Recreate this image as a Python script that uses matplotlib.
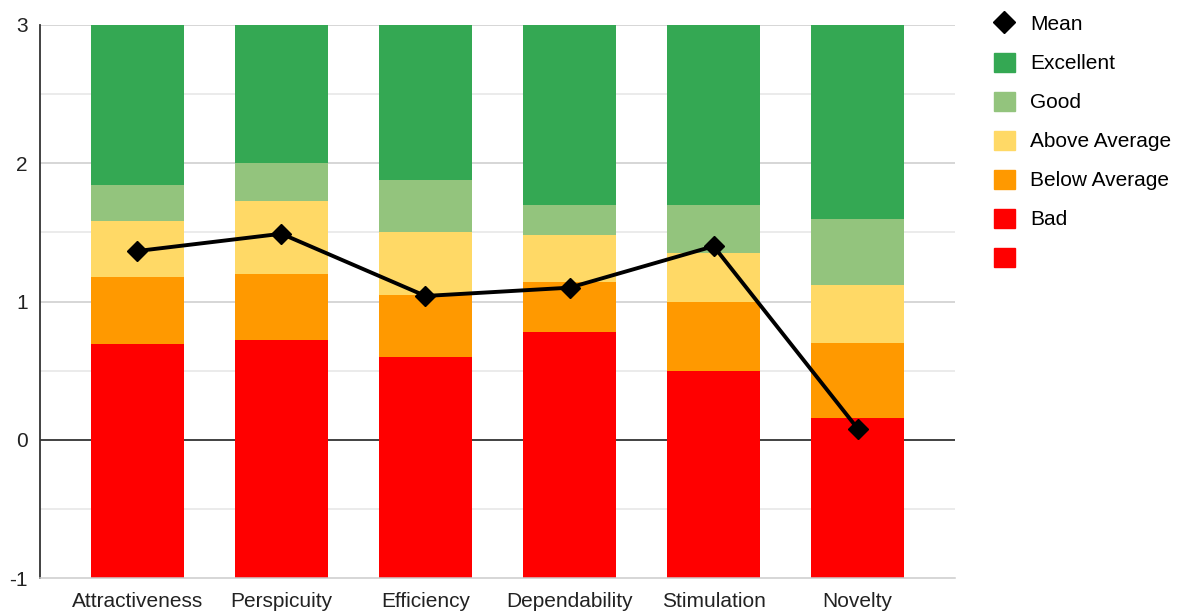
import matplotlib
matplotlib.use("Agg")
import matplotlib.pyplot as plt
import numpy as np
from matplotlib.lines import Line2D
from matplotlib.patches import Patch

plt.rcParams['font.family'] = ['Liberation Sans', 'DejaVu Sans']

categories = ["Attractiveness", "Perspicuity", "Efficiency", "Dependability", "Stimulation", "Novelty"]

# Upper bounds of each benchmark band per scale
bad_upper = [0.69, 0.72, 0.60, 0.78, 0.50, 0.16]
below_avg_upper = [1.18, 1.20, 1.05, 1.14, 1.00, 0.70]
above_avg_upper = [1.58, 1.73, 1.50, 1.48, 1.35, 1.12]
good_upper = [1.84, 2.00, 1.88, 1.70, 1.70, 1.60]
excellent_upper = [3.0, 3.0, 3.0, 3.0, 3.0, 3.0]
floor_values = [-1.0, -1.0, -1.0, -1.0, -1.0, -1.0]

mean_values = [1.365, 1.49, 1.04, 1.10, 1.40, 0.08]

yticks = [-1, 0, 1, 2, 3]

colors = {
    "Excellent": "#34A853",
    "Good": "#93C47D",
    "Above Average": "#FFD966",
    "Below Average": "#FF9900",
    "Bad": "#FF0000",
}

fig = plt.figure(figsize=(11.82, 6.12), dpi=100)
ax = fig.add_axes([40 / 1182, 34 / 612, 915 / 1182, 553 / 612])

x = np.arange(len(categories))
w = 0.645

# Unlabelled red base from 0 down to -1
ax.bar(x, floor_values, w, bottom=0, color=colors["Bad"], zorder=2)

bands = [
    ("Bad", [0.0] * 6, bad_upper),
    ("Below Average", bad_upper, below_avg_upper),
    ("Above Average", below_avg_upper, above_avg_upper),
    ("Good", above_avg_upper, good_upper),
    ("Excellent", good_upper, excellent_upper),
]
for name, lo, hi in bands:
    lo = np.array(lo)
    hi = np.array(hi)
    ax.bar(x, hi - lo, w, bottom=lo, color=colors[name], zorder=2)

ax.plot(x, mean_values, color="black", lw=2.8, marker="D", ms=10, zorder=4)

ax.set_xlim(-0.675, len(categories) - 1 + 0.675)
ax.set_ylim(-1, 3)

# Grid lines
for v in np.arange(-0.5, 3.01, 0.5):
    if v == 0:
        ax.axhline(v, color="#333333", lw=1.3, zorder=1)
    elif float(v).is_integer():
        ax.axhline(v, color="#cccccc", lw=1.1, zorder=1)
    else:
        ax.axhline(v, color="#e6e6e6", lw=1.1, zorder=1)

for s in ["top", "right"]:
    ax.spines[s].set_visible(False)
ax.spines["left"].set_color("#333333")
ax.spines["left"].set_linewidth(1.3)
ax.spines["bottom"].set_color("#cccccc")
ax.spines["bottom"].set_linewidth(1.1)

ax.set_yticks(yticks)
ax.set_yticklabels([str(t) for t in yticks])
ax.set_xticks(x)
ax.set_xticklabels(categories)
ax.tick_params(axis="both", length=0, labelsize=15, colors="#222222")
ax.tick_params(axis="y", pad=9)
ax.tick_params(axis="x", pad=10)

handles = [
    Line2D([], [], color="black", marker="D", ms=11, lw=0),
    Patch(color=colors["Excellent"]),
    Patch(color=colors["Good"]),
    Patch(color=colors["Above Average"]),
    Patch(color=colors["Below Average"]),
    Patch(color=colors["Bad"]),
    Patch(color=colors["Bad"]),
]
labels = ["Mean", "Excellent", "Good", "Above Average", "Below Average", "Bad", ""]
fig.legend(handles, labels, loc="upper left", bbox_to_anchor=(994 / 1182, 1 - 14 / 612),
           frameon=False, fontsize=15, handlelength=1.0, handleheight=1.0,
           handletextpad=0.75, labelspacing=0.89, borderaxespad=0, borderpad=0)

fig.savefig("out.png", dpi=100)
